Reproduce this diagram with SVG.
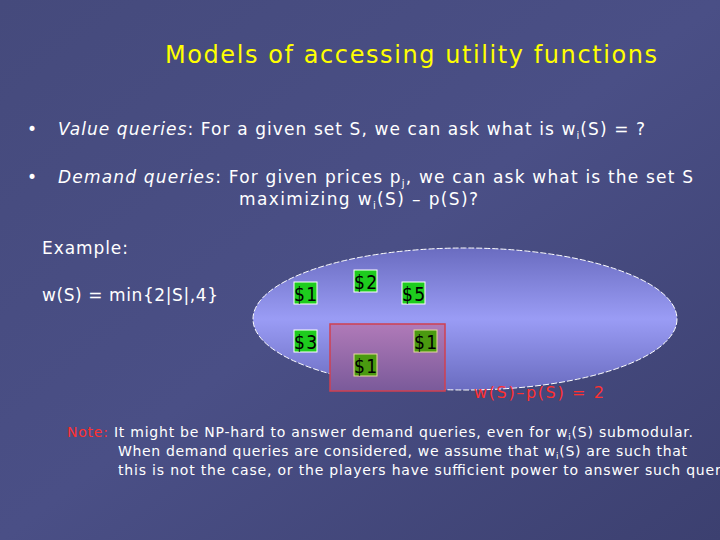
<svg xmlns="http://www.w3.org/2000/svg" width="720" height="540" viewBox="0 0 720 540">
<defs>
<linearGradient id="bg" x1="0" y1="0" x2="1" y2="1"><stop offset="0" stop-color="#454a7c"/><stop offset="0.5" stop-color="#4a4f86"/><stop offset="1" stop-color="#3c4070"/></linearGradient>
<linearGradient id="ell" x1="0" y1="0" x2="0" y2="1"><stop offset="0" stop-color="#6a6cc0"/><stop offset="0.5" stop-color="#9a9cf5"/><stop offset="1" stop-color="#6a6cc0"/></linearGradient>
<linearGradient id="red" x1="0" y1="0" x2="0" y2="1"><stop offset="0" stop-color="#b07ab8"/><stop offset="1" stop-color="#7a5a9a"/></linearGradient>
<style>
.t{font-family:"DejaVu Sans",sans-serif;fill:#fff;font-size:17px}
.p{font-family:"DejaVu Sans Condensed","DejaVu Sans",sans-serif;font-size:19px;fill:#000}
.g{fill:#1ecc1e;stroke:#fff;stroke-width:1}
.d{fill:#4a9a10;stroke:#e8d8a0;stroke-width:1}
</style>
</defs>
<rect width="720" height="540" fill="url(#bg)"/>
<text x="165" y="63" textLength="492" lengthAdjust="spacing" style="font-family:'DejaVu Sans',sans-serif;font-size:24px;fill:#ffff00">Models of accessing utility functions</text>
<text class="t" x="27" y="135" font-size="10">•</text>
<text class="t" x="58" y="135" textLength="587" lengthAdjust="spacing"><tspan font-style="italic">Value queries</tspan>:  For a given set S, we can ask what is w<tspan font-size="10" dy="4">i</tspan><tspan dy="-4">(S) = ?</tspan></text>
<text class="t" x="27" y="183" font-size="10">•</text>
<text class="t" x="58" y="183" textLength="635" lengthAdjust="spacing"><tspan font-style="italic">Demand queries</tspan>:  For given prices p<tspan font-size="10" dy="4">j</tspan><tspan dy="-4">, we can ask what is the set S</tspan></text>
<text class="t" x="239" y="205" textLength="239" lengthAdjust="spacing">maximizing w<tspan font-size="10" dy="4">i</tspan><tspan dy="-4">(S) – p(S)?</tspan></text>
<text class="t" x="42" y="254" textLength="86" lengthAdjust="spacing">Example:</text>
<text class="t" x="42" y="301" textLength="176" lengthAdjust="spacing">w(S) = min{2|S|,4}</text>
<g id="set"><ellipse cx="465" cy="319" rx="212" ry="71" fill="url(#ell)" stroke="#fff" stroke-width="1" stroke-dasharray="6,2"/></g>
<g id="chosen"><rect x="330" y="324" width="115" height="67" fill="url(#red)" stroke="#d04050" stroke-width="1.5"/></g>
<g id="i1"><rect class="g" x="294" y="282" width="23" height="22"/><text class="p" x="294" y="301" textLength="23">$1</text></g>
<g id="i2"><rect class="g" x="354" y="270" width="23" height="22"/><text class="p" x="354" y="289" textLength="23">$2</text></g>
<g id="i3"><rect class="g" x="402" y="282" width="23" height="22"/><text class="p" x="402" y="301" textLength="23">$5</text></g>
<g id="i4"><rect class="g" x="294" y="330" width="23" height="22"/><text class="p" x="294" y="349" textLength="23">$3</text></g>
<g id="i5"><rect class="d" x="414" y="330" width="23" height="22"/><text class="p" x="414" y="349" textLength="23">$1</text></g>
<g id="i6"><rect class="d" x="354" y="354" width="23" height="22"/><text class="p" x="354" y="373" textLength="23">$1</text></g>
<g id="connectors"/>
<text x="474" y="398" textLength="130" lengthAdjust="spacing" style="font-family:'DejaVu Sans',sans-serif;font-size:16px;fill:#ff3030">w(S)–p(S) = 2</text>
<g style="font-family:'DejaVu Sans',sans-serif;font-size:14px;fill:#fff">
<text x="67" y="437" textLength="626" lengthAdjust="spacing"><tspan fill="#ff3030">Note:</tspan> It might be NP-hard to answer demand queries, even for w<tspan font-size="9" dy="3">i</tspan><tspan dy="-3">(S) submodular.</tspan></text>
<text x="118" y="456" textLength="569" lengthAdjust="spacing">When demand queries are considered, we assume that w<tspan font-size="9" dy="3">i</tspan><tspan dy="-3">(S) are such that</tspan></text>
<text x="118" y="475" textLength="625" lengthAdjust="spacing">this is not the case, or the players have sufficient power to answer such queries</text>
</g>
</svg>
